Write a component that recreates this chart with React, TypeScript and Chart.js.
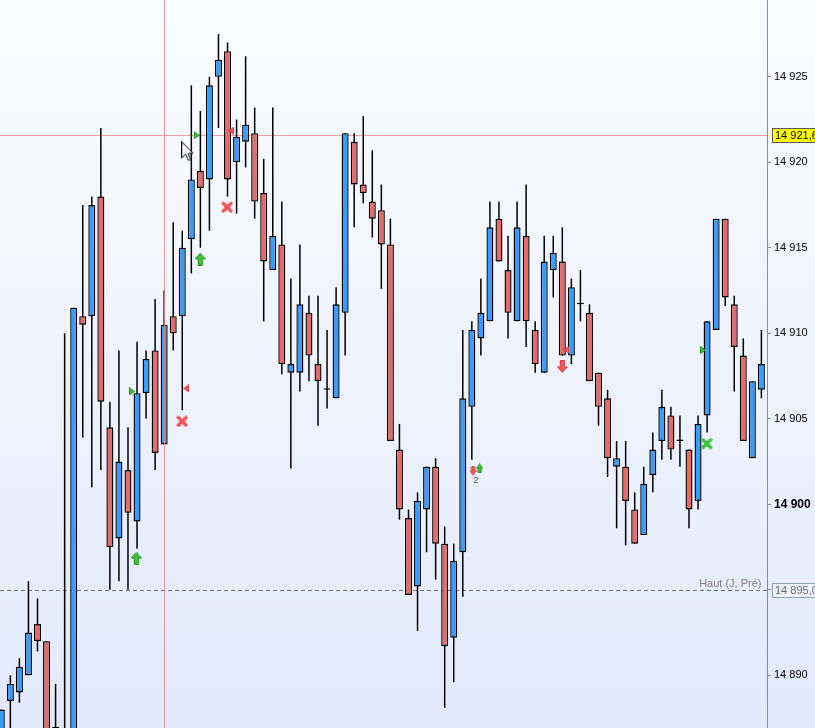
import React, { useEffect, useRef } from 'react';
import { Chart, registerables } from 'chart.js';

Chart.register(...registerables);

// ---------- DATA ----------
const opens = [
  14885.0, 14888.5, 14889.0, 14890.0, 14893.0, 14892.0, 14887.0, 14884.5, 14884.0, 14911.0,
  14911.0, 14918.0, 14904.5, 14898.0, 14902.0, 14899.0, 14906.5, 14909.0, 14903.5, 14911.0,
  14911.0, 14915.5, 14919.5, 14919.0, 14925.0, 14926.5, 14920.0, 14921.2, 14921.7, 14918.2,
  14913.7, 14915.2, 14907.7, 14907.7, 14911.2, 14908.2, 14906.7, 14906.2, 14911.2, 14921.2,
  14918.7, 14917.7, 14917.2, 14915.2, 14903.2, 14899.2, 14895.2, 14899.7, 14902.2, 14897.7,
  14892.2, 14897.2, 14905.7, 14909.7, 14910.7, 14916.7, 14913.7, 14910.7, 14915.7, 14910.2,
  14907.7, 14913.7, 14914.2, 14908.7, 14911.7, 14911.2, 14907.7, 14906.2, 14902.2, 14902.2,
  14899.7, 14898.2, 14901.7, 14903.7, 14905.2, 14903.7, 14903.2, 14900.2, 14905.2, 14910.2,
  14916.7, 14911.7, 14908.7, 14902.7, 14906.7,
];
const highs = [
  14888.0, 14890.0, 14891.0, 14895.5, 14894.5, 14892.0, 14889.5, 14910.0, 14911.5, 14917.5,
  14918.0, 14922.0, 14906.0, 14909.0, 14904.5, 14909.5, 14909.0, 14912.0, 14912.5, 14916.5,
  14916.0, 14924.5, 14923.0, 14925.0, 14927.5, 14927.0, 14922.5, 14926.2, 14923.2, 14920.2,
  14923.2, 14917.7, 14913.2, 14915.2, 14912.2, 14912.2, 14910.2, 14912.7, 14921.7, 14921.7,
  14922.7, 14920.7, 14918.7, 14916.7, 14904.7, 14899.7, 14900.7, 14902.2, 14902.7, 14898.7,
  14897.7, 14910.2, 14910.7, 14913.2, 14917.7, 14917.7, 14915.7, 14917.7, 14918.7, 14910.7,
  14915.7, 14915.7, 14916.2, 14913.2, 14913.7, 14911.7, 14907.7, 14906.7, 14903.7, 14903.7,
  14900.7, 14902.2, 14904.2, 14906.7, 14905.7, 14905.2, 14903.2, 14905.2, 14910.7, 14916.7,
  14916.7, 14912.2, 14909.7, 14907.2, 14910.2,
];
const lows = [
  14884.0, 14886.5, 14888.4, 14890.0, 14891.4, 14884.0, 14884.5, 14883.0, 14883.5, 14903.9,
  14901.0, 14902.0, 14895.0, 14895.5, 14895.0, 14897.4, 14905.0, 14902.0, 14903.5, 14909.0,
  14905.5, 14913.5, 14915.0, 14916.0, 14922.0, 14918.0, 14917.0, 14919.7, 14916.7, 14910.7,
  14913.7, 14907.6, 14902.1, 14906.6, 14907.2, 14904.6, 14905.6, 14906.2, 14908.7, 14916.2,
  14917.6, 14915.6, 14912.6, 14903.7, 14899.1, 14894.7, 14892.6, 14897.2, 14895.6, 14888.1,
  14889.6, 14894.6, 14902.6, 14908.7, 14910.7, 14914.2, 14909.7, 14910.7, 14909.2, 14907.7,
  14907.7, 14912.1, 14908.7, 14908.2, 14910.7, 14907.2, 14904.6, 14901.6, 14898.6, 14897.6,
  14897.7, 14898.2, 14900.7, 14902.6, 14902.6, 14902.2, 14898.6, 14899.7, 14904.2, 14910.2,
  14911.6, 14906.6, 14903.7, 14902.7, 14906.2,
];
const closes = [
  14888.0, 14889.5, 14890.5, 14892.5, 14892.0, 14885.0, 14885.5, 14885.5, 14911.5, 14910.5,
  14917.5, 14906.0, 14897.5, 14902.5, 14899.5, 14906.5, 14908.5, 14903.0, 14910.5, 14910.0,
  14915.0, 14919.0, 14918.5, 14924.5, 14926.0, 14919.0, 14921.5, 14922.2, 14917.7, 14914.2,
  14915.7, 14908.2, 14908.2, 14911.7, 14908.7, 14907.2, 14906.7, 14911.7, 14921.7, 14918.7,
  14918.2, 14916.7, 14915.2, 14903.7, 14899.7, 14894.7, 14900.2, 14902.2, 14897.7, 14891.7,
  14896.7, 14906.2, 14910.2, 14911.2, 14916.2, 14914.2, 14911.2, 14916.2, 14910.7, 14908.2,
  14914.2, 14914.7, 14908.7, 14912.7, 14911.7, 14907.2, 14905.7, 14902.7, 14902.7, 14900.2,
  14897.7, 14901.2, 14903.2, 14905.7, 14903.2, 14903.7, 14899.7, 14904.7, 14910.7, 14916.7,
  14912.1, 14909.2, 14903.7, 14907.2, 14908.2,
];

const tickValues = [14890, 14895, 14900, 14905, 14910, 14915, 14920, 14925];
const boldTick = 14900;
const crossPrice = 14921.6;
const crossPriceLabel = '14 921,6';
const crossIndex = 18;
const prevHigh = 14895.0;
const prevHighLabel = '14 895,0';
const prevHighName = 'Haut (J, Pré)';

// markers: x = bar index (fractional = offset), y = price
const greenUpArrows = [{ x: 14.92, y: 14896.83 }, { x: 21.98, y: 14914.33 }];
const redDownArrows = [{ x: 62.0, y: 14908.07 }];
const redCrosses = [{ x: 20.0, y: 14904.85 }, { x: 24.97, y: 14917.37 }];
const greenCrosses = [{ x: 77.96, y: 14903.55 }];
const greenFlags = [{ x: 14.44, y: 14906.6 }, { x: 21.58, y: 14921.58 }, { x: 77.55, y: 14909.02 }];
const redFlags = [{ x: 20.44, y: 14906.78 }, { x: 25.41, y: 14921.85 }, { x: 62.46, y: 14909.04 }];
const smallRedDown = [{ x: 52.14, y: 14901.97 }];
const smallGreenUp = [{ x: 52.86, y: 14902.1 }];
const countLabels = [{ x: 52.46, y: 14901.38, text: '2' }];
const pointerPos = [{ x: 20.6, y: 14920.64 }];

const X_MIN = -0.144;
const X_MAX = 84.62;
const Y_MIN = 14886.92;
const Y_MAX = 14929.49;

const BLUE = '#389cf8';
const RED = '#e66a6a';
const FONT = '"Liberation Sans", Arial, sans-serif';

const fmt = (v: number) => {
  const t = Math.floor(v / 1000);
  const r = Math.round(v - t * 1000);
  return `${t} ${String(r).padStart(3, '0')}`;
};

// ---------- glyphs ----------
function glyph(w: number, h: number, paint: (g: CanvasRenderingContext2D) => void) {
  const c = document.createElement('canvas');
  c.width = w;
  c.height = h;
  const g = c.getContext('2d')!;
  paint(g);
  return c;
}
function arrowPath(g: CanvasRenderingContext2D, w: number, h: number) {
  const mid = w / 2;
  const head = Math.round(h * 0.48);
  const sh = Math.max(1.5, w * 0.19);
  g.beginPath();
  g.moveTo(mid, 0.5);
  g.lineTo(w - 0.5, head);
  g.lineTo(mid + sh, head);
  g.lineTo(mid + sh, h - 0.5);
  g.lineTo(mid - sh, h - 0.5);
  g.lineTo(mid - sh, head);
  g.lineTo(0.5, head);
  g.closePath();
}
function arrow(w: number, h: number, fill: string, stroke: string, down: boolean) {
  return glyph(w, h, (g) => {
    if (down) {
      g.translate(0, h);
      g.scale(1, -1);
    }
    arrowPath(g, w, h);
    g.fillStyle = fill;
    g.fill();
    g.strokeStyle = stroke;
    g.lineWidth = 1;
    g.stroke();
  });
}
function cross(s: number, color: string) {
  return glyph(s, s, (g) => {
    g.strokeStyle = color;
    g.lineWidth = 3.4;
    g.lineCap = 'round';
    g.beginPath();
    g.moveTo(2.2, 2.2);
    g.lineTo(s - 2.2, s - 2.2);
    g.moveTo(s - 2.2, 2.2);
    g.lineTo(2.2, s - 2.2);
    g.stroke();
  });
}
function flag(w: number, h: number, fill: string, stroke: string, left: boolean) {
  return glyph(w, h, (g) => {
    if (left) {
      g.translate(w, 0);
      g.scale(-1, 1);
    }
    g.beginPath();
    g.moveTo(0.5, 0.5);
    g.lineTo(w - 0.5, h / 2);
    g.lineTo(0.5, h - 0.5);
    g.closePath();
    g.fillStyle = fill;
    g.fill();
    g.strokeStyle = stroke;
    g.lineWidth = 1;
    g.stroke();
  });
}
function pointer() {
  return glyph(13, 20, (g) => {
    g.beginPath();
    g.moveTo(0.5, 0.5);
    g.lineTo(0.5, 16.5);
    g.lineTo(4.5, 12.8);
    g.lineTo(7.3, 19.2);
    g.lineTo(9.6, 18.2);
    g.lineTo(6.9, 12.0);
    g.lineTo(11.8, 12.0);
    g.closePath();
    g.fillStyle = '#ffffff';
    g.fill();
    g.strokeStyle = '#000000';
    g.lineWidth = 1;
    g.stroke();
  });
}

// ---------- overlay plugin ----------
const overlayPlugin = {
  id: 'overlay',
  beforeDraw(chart: any) {
    const { ctx, width, height } = chart;
    const g = ctx.createLinearGradient(0, 0, 0, height);
    g.addColorStop(0, '#fbfcff');
    g.addColorStop(1, '#e1e9fb');
    ctx.save();
    ctx.fillStyle = g;
    ctx.fillRect(0, 0, width, height);
    ctx.restore();
  },
  beforeDatasetsDraw(chart: any) {
    const { ctx, chartArea, scales } = chart;
    const y = scales.y;
    ctx.save();
    // horizontal crosshair
    const py = Math.round(y.getPixelForValue(crossPrice)) + 0.5;
    ctx.strokeStyle = '#f2a0a0';
    ctx.lineWidth = 1;
    ctx.beginPath();
    ctx.moveTo(chartArea.left, py);
    ctx.lineTo(chartArea.right, py);
    ctx.stroke();
    // previous day high
    const ph = Math.round(y.getPixelForValue(prevHigh)) + 0.5;
    ctx.strokeStyle = '#6e6e6e';
    ctx.setLineDash([4, 3]);
    ctx.beginPath();
    ctx.moveTo(chartArea.left, ph);
    ctx.lineTo(chartArea.right, ph);
    ctx.stroke();
    ctx.setLineDash([]);
    ctx.font = `11px ${FONT}`;
    ctx.fillStyle = '#7e7e7e';
    ctx.textAlign = 'right';
    ctx.textBaseline = 'alphabetic';
    ctx.fillText(prevHighName, chartArea.right - 5.5, ph - 3.5);
    ctx.restore();
  },
  afterDatasetsDraw(chart: any) {
    const { ctx, chartArea, scales } = chart;
    const x = scales.x;
    const y = scales.y;
    ctx.save();
    const px = Math.round(x.getPixelForValue(crossIndex)) + 0.5;
    ctx.strokeStyle = 'rgba(240,130,130,0.85)';
    ctx.lineWidth = 1;
    ctx.beginPath();
    ctx.moveTo(px, chartArea.top);
    ctx.lineTo(px, chartArea.bottom);
    ctx.stroke();
    ctx.font = `9px ${FONT}`;
    ctx.fillStyle = '#555a66';
    ctx.textAlign = 'center';
    ctx.textBaseline = 'middle';
    countLabels.forEach((l) => {
      ctx.fillText(l.text, x.getPixelForValue(l.x), y.getPixelForValue(l.y));
    });
    ctx.restore();
  },
  afterDraw(chart: any) {
    const { ctx, chartArea, scales } = chart;
    const y = scales.y;
    const box = (val: number, text: string, fill: string, stroke: string, color: string) => {
      const h = 14;
      const top = Math.round(y.getPixelForValue(val) - h / 2) + 0.5;
      const left = chartArea.right + 5 + 0.5;
      ctx.fillStyle = fill;
      ctx.fillRect(left, top, 70, h);
      ctx.strokeStyle = stroke;
      ctx.lineWidth = 1;
      ctx.strokeRect(left, top, 70, h);
      ctx.font = `11px ${FONT}`;
      ctx.fillStyle = color;
      ctx.textAlign = 'left';
      ctx.textBaseline = 'middle';
      ctx.fillText(text, left + 2.5, top + h / 2 + 0.5);
    };
    ctx.save();
    box(crossPrice, crossPriceLabel, '#ffff00', '#5a5a5a', '#000000');
    box(prevHigh, prevHighLabel, '#edf2fc', '#8fa0b4', '#6a6a6a');
    ctx.restore();
  },
};

export default function App() {
  const ref = useRef<HTMLCanvasElement>(null);

  useEffect(() => {
    const canvas = ref.current;
    if (!canvas) return;
    const idx = opens.map((_, i) => i);

    const bodyColors = idx.map((i) =>
      closes[i] > opens[i] ? BLUE : closes[i] < opens[i] ? RED : '#000000'
    );

    const scatter = (data: any[], style: HTMLCanvasElement, order = 0) => ({
      type: 'scatter' as const,
      data,
      pointStyle: style,
      pointRadius: 4,
      pointHoverRadius: 4,
      showLine: false,
      order,
    });

    const chart = new Chart(canvas, {
      type: 'bar',
      data: {
        datasets: [
          {
            type: 'bar',
            label: 'wick',
            data: idx.map((i) => ({ x: i, y: [lows[i], highs[i]] })) as any,
            backgroundColor: '#000000',
            borderWidth: 0,
            barThickness: 1.5,
            grouped: false,
            inflateAmount: 0,
            order: 2,
          } as any,
          {
            type: 'bar',
            label: 'body',
            data: idx.map((i) => ({ x: i, y: [opens[i], closes[i]] })) as any,
            backgroundColor: bodyColors,
            borderColor: '#000000',
            borderWidth: 1.4,
            borderSkipped: false,
            barThickness: 7,
            minBarLength: 1.6,
            grouped: false,
            inflateAmount: 0,
            order: 1,
          } as any,
          scatter(greenFlags, flag(6, 8, '#3cc43c', '#1f8f1f', false)) as any,
          scatter(redFlags, flag(6, 8, '#f05a5a', '#c23a3a', true)) as any,
          scatter(greenUpArrows, arrow(11, 13, '#3cc43c', '#1f8f1f', false)) as any,
          scatter(redDownArrows, arrow(11, 13, '#f05a5a', '#c83c3c', true)) as any,
          scatter(redCrosses, cross(12, '#ec5656')) as any,
          scatter(greenCrosses, cross(12, '#3cc43c')) as any,
          scatter(smallRedDown, arrow(7, 10, '#f05a5a', '#c83c3c', true)) as any,
          scatter(smallGreenUp, arrow(7, 10, '#3cc43c', '#1f8f1f', false)) as any,
          scatter(pointerPos, pointer(), -1) as any,
        ],
      },
      options: {
        responsive: false,
        animation: false,
        events: [],
        layout: { padding: 0, autoPadding: false },
        plugins: {
          legend: { display: false },
          tooltip: { enabled: false },
        },
        scales: {
          x: {
            type: 'linear',
            display: false,
            offset: false,
            min: X_MIN,
            max: X_MAX,
            grid: { display: false },
          },
          y: {
            type: 'linear',
            position: 'right',
            min: Y_MIN,
            max: Y_MAX,
            beginAtZero: false,
            afterFit: (s: any) => {
              s.width = 48;
              s.paddingTop = 0;
              s.paddingBottom = 0;
            },
            afterBuildTicks: (s: any) => {
              s.ticks = tickValues.map((v) => ({ value: v }));
            },
            border: { display: true, color: '#7f8fa3', width: 1 },
            grid: {
              display: true,
              drawOnChartArea: false,
              drawTicks: true,
              tickLength: 4,
              color: '#7f8fa3',
            },
            ticks: {
              padding: 3,
              color: '#000000',
              font: (c: any) => ({
                family: FONT,
                size: c.tick && c.tick.value === boldTick ? 12 : 11,
                weight: c.tick && c.tick.value === boldTick ? 'bold' : 'normal',
              }),
              callback: (v: any) => (Number(v) === prevHigh ? '' : fmt(Number(v))),
            },
          },
        },
      } as any,
      plugins: [overlayPlugin],
    });

    return () => chart.destroy();
  }, []);

  return (
    <div style={{ position: 'fixed', left: 0, top: 0, width: 815, height: 728 }}>
      <canvas ref={ref} width={815} height={728} style={{ display: 'block', width: 815, height: 728 }} />
    </div>
  );
}
